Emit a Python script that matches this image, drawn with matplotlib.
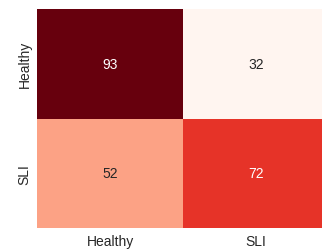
import matplotlib
matplotlib.use("Agg")
import matplotlib.pyplot as plt
import seaborn as sns
import numpy as np

labels = ["Healthy", "SLI"]
values = np.array([[93, 32],
                   [52, 72]])

sns.set_theme(style="white")
plt.rcParams['font.family'] = ['Liberation Sans', 'DejaVu Sans']

fig = plt.figure(figsize=(3.22, 2.53), dpi=100)
ax = fig.add_axes([0.115, 0.095, 0.907, 0.865])
sns.heatmap(values, annot=True, fmt="d", cmap="Reds", cbar=False,
            xticklabels=labels, yticklabels=labels, ax=ax,
            annot_kws={"fontsize": 10})
ax.tick_params(axis='both', labelsize=10, colors='#262626', length=0, pad=4)
ax.set_yticklabels(labels, rotation=90, va='center')
fig.savefig("out.png", dpi=100)
